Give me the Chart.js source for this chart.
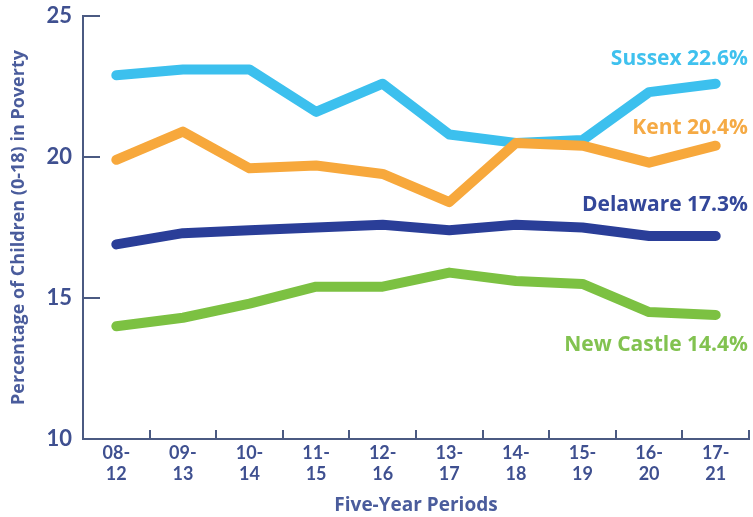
<!DOCTYPE html>
<html>
<head>
<meta charset="utf-8">
<script src="https://cdn.jsdelivr.net/npm/chart.js@4.4.1/dist/chart.umd.min.js"></script>
<style>
  html, body { margin: 0; padding: 0; background: #fff; }
  #wrap { width: 753px; height: 517px; }
</style>
</head>
<body>
<div id="wrap"><canvas id="povertyChart" width="753" height="517"></canvas></div>
<script>
// --- data ---
const periods = [['08-', '12'], ['09-', '13'], ['10-', '14'], ['11-', '15'], ['12-', '16'],
                 ['13-', '17'], ['14-', '18'], ['15-', '19'], ['16-', '20'], ['17-', '21']];
const kent      = [19.9, 20.9, 19.6, 19.7, 19.4, 18.4, 20.5, 20.4, 19.8, 20.4];
const sussex    = [22.9, 23.1, 23.1, 21.6, 22.6, 20.8, 20.5, 20.6, 22.3, 22.6];
const delaware  = [16.9, 17.3, 17.4, 17.5, 17.6, 17.4, 17.6, 17.5, 17.2, 17.2];
const newCastle = [14.0, 14.3, 14.8, 15.4, 15.4, 15.9, 15.6, 15.5, 14.5, 14.4];
const endLabels = ['Kent 20.4%', 'Sussex 22.6%', 'Delaware 17.3%', 'New Castle 14.4%'];
const yTicks = [10, 15, 20, 25];

const FONT = 'Lato, "DejaVu Sans", sans-serif';
const WIDE = '"Open Sans", "DejaVu Sans", sans-serif';
const AXIS = '#4b5a82';
const TEXT = '#3f5090';

// label placement relative to each line's last point
const labelStyle = [
  { color: '#f5aa45', dy: -18 },
  { color: '#3fc1ee', dy: -25 },
  { color: '#33479a', dy: -31 },
  { color: '#82c250', dy: 30 }
];

const endLabelPlugin = {
  id: 'endLabels',
  afterDatasetsDraw(chart) {
    const ctx = chart.ctx;
    ctx.save();
    ctx.font = 'bold 21px ' + WIDE;
    ctx.textAlign = 'right';
    ctx.textBaseline = 'middle';
    chart.data.datasets.forEach((ds, i) => {
      const pts = chart.getDatasetMeta(i).data;
      const last = pts[pts.length - 1];
      ctx.fillStyle = labelStyle[i].color;
      ctx.fillText(endLabels[i], chart.width - 5, last.y + labelStyle[i].dy);
    });
    ctx.restore();
  }
};

function line(label, data, color) {
  return {
    label, data,
    borderColor: color,
    backgroundColor: color,
    borderWidth: 10,
    borderCapStyle: 'round',
    borderJoinStyle: 'round',
    tension: 0,
    pointRadius: 0,
    pointHoverRadius: 0
  };
}

new Chart(document.getElementById('povertyChart'), {
  type: 'line',
  data: {
    labels: periods,
    datasets: [
      line('Kent', kent, '#f7a83c'),
      line('Sussex', sussex, '#3cc0ee'),
      line('Delaware', delaware, '#2a3e98'),
      line('New Castle', newCastle, '#7cc142')
    ]
  },
  options: {
    responsive: false,
    animation: false,
    layout: { padding: { top: 16, right: 4, left: 0, bottom: 0 } },
    plugins: { legend: { display: false }, tooltip: { enabled: false } },
    scales: {
      x: {
        type: 'category',
        offset: true,
        border: { color: AXIS, width: 2 },
        grid: { drawOnChartArea: false, offset: true, color: AXIS, lineWidth: 2, tickLength: -9 },
        ticks: { color: TEXT, font: { family: FONT, size: 18, weight: 'bold', lineHeight: 1.2 }, padding: 12, maxRotation: 0, autoSkip: false },
        title: { display: true, text: 'Five-Year Periods', color: '#4a5c9c',
                 font: { family: WIDE, size: 19, weight: 'bold' }, padding: { top: 0, bottom: 0 } },
        afterFit(scale) { scale.height = 78; }
      },
      y: {
        min: 10, max: 25,
        afterBuildTicks(scale) { scale.ticks = yTicks.map(v => ({ value: v })); },
        border: { color: AXIS, width: 2 },
        grid: { drawOnChartArea: false, color: AXIS, lineWidth: 2, tickLength: -17 },
        ticks: { color: TEXT, font: { family: FONT, size: 22, weight: 'bold' }, padding: 28 },
        title: { display: true, text: 'Percentage of Children (0-18) in Poverty', color: '#4a5c9c',
                 font: { family: WIDE, size: 18, weight: 'bold' }, padding: { top: 8, bottom: 0 } },
        afterFit(scale) {
          scale.width = 83;
          scale.paddingTop = 0;
          scale.paddingBottom = 0;
        }
      }
    }
  },
  plugins: [endLabelPlugin]
});
</script>
</body>
</html>
